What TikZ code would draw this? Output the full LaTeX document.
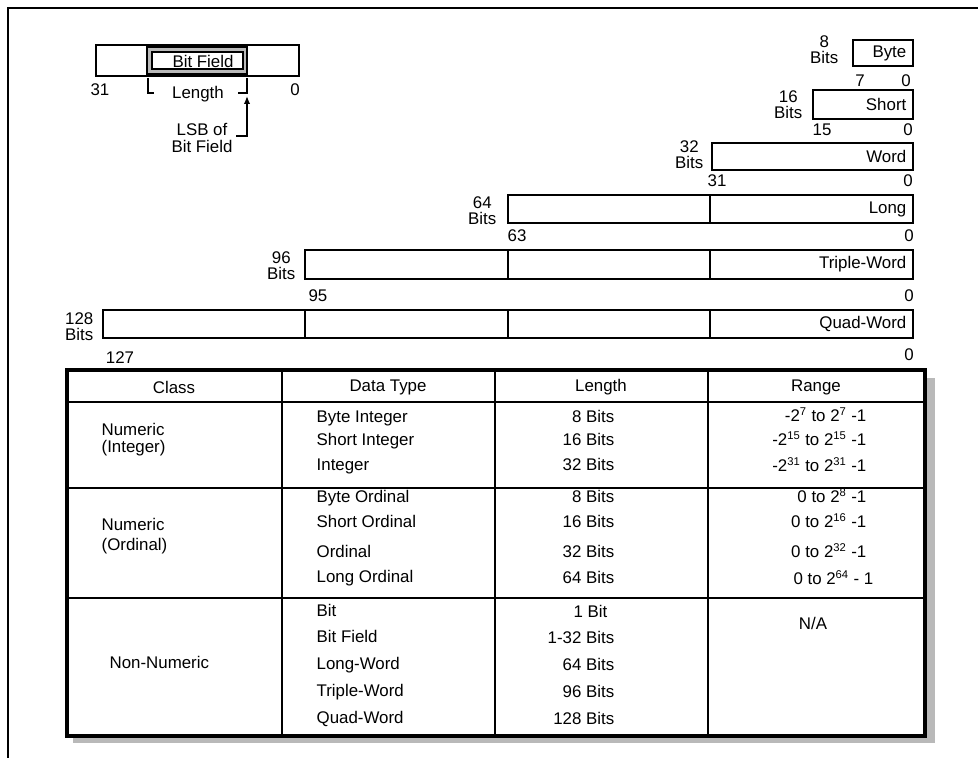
\documentclass[tikz,border=0pt]{standalone}
\usepackage{fontspec}
\setmainfont{Liberation Sans}
\usetikzlibrary{arrows.meta, positioning}

\begin{document}
\begin{tikzpicture}[x=0.25mm, y=-0.25mm, >={Latex[length=2mm, width=1.6mm]},
  font=\fontsize{12}{12}\selectfont, every node/.style={inner sep=1pt},
  reg/.style={line width=2pt},
  rule/.style={line width=1.8pt},
  thin line/.style={line width=1pt},
  size/.style={align=center, anchor=east, font=\fontsize{12}{11.5}\selectfont},
  regname/.style={anchor=east},
  cell/.style={anchor=west, text height=9pt, text depth=2.5pt},
  len/.style={anchor=east, text height=9pt, text depth=2.5pt},
  rng/.style={anchor=east, text height=9pt, text depth=2.5pt}]
  \useasboundingbox (0,0) rectangle (978,758);
  \draw[thin line] (8,758) -- (8,8) -- (978,8);

  % Bit field
  \draw[reg] (96,45) rectangle (299,76);
  \draw[thin line, fill=gray!55] (147,47) rectangle (247,74);
  \draw[thin line, fill=white] (152,52) rectangle (243,69);
  \node (bitfield) at (203,61) {Bit Field};
  \node (bf31) at (100,90) {31};
  \node (bf0) at (295,90) {0};
  \coordinate (lenL) at (148,78);
  \coordinate (lenR) at (247,78);
  \draw[thin line] (lenL) |- ++(6,15);
  \draw[thin line] (lenR) |- ++(-9,15);
  \node (length) at (198,94) {Length};
  \node[align=center] (lsb) at (202,138) {LSB of\\Bit Field};
  \coordinate (lsbfoot) at (236,136);
  \coordinate (lsbtip) at (247,96);
  \draw[->, thin line] (lsbfoot) -| (lsbtip);

  % Byte
  \draw[reg] (853,40) rectangle (913,66);
  \node[regname] (byte) at (908,53) {Byte};
  \node[size] (byteb) at (840,50) {8\\Bits};
  \node (byte7) at (860,81) {7};
  \node (byte0) at (906,81) {0};

  % Short
  \draw[reg] (813,90) rectangle (913,119);
  \node[regname] (short) at (908,104.5) {Short};
  \node[size] (shortb) at (804,105) {16\\Bits};
  \node (short15) at (822,130) {15};
  \node (short0) at (908,130) {0};

  % Word
  \draw[reg] (712,143) rectangle (913,170);
  \node[regname] (word) at (908,156.5) {Word};
  \node[size] (wordb) at (705,155) {32\\Bits};
  \node (word31) at (717,181) {31};
  \node (word0) at (908,181) {0};

  % Long
  \draw[reg] (508,195) rectangle (913,223);
  \draw[reg] (710,195) -- (710,223);
  \node[regname] (long) at (908,209) {Long};
  \node[size] (longb) at (498,211) {64\\Bits};
  \node (long63) at (517,236) {63};
  \node (long0) at (909,236) {0};

  % Triple-Word
  \draw[reg] (305,250) rectangle (913,279);
  \draw[reg] (508,250) -- (508,279);
  \draw[reg] (710,250) -- (710,279);
  \node[regname] (triple) at (908,264.5) {Triple-Word};
  \node[size] (tripleb) at (297,266) {96\\Bits};
  \node (triple95) at (318,296) {95};
  \node (triple0) at (909,296) {0};

  % Quad-Word
  \draw[reg] (103,310) rectangle (913,338);
  \draw[reg] (305,310) -- (305,338);
  \draw[reg] (508,310) -- (508,338);
  \draw[reg] (710,310) -- (710,338);
  \node[regname] (quad) at (908,324) {Quad-Word};
  \node[size] (quadb) at (95,327) {128\\Bits};
  \node (quad127) at (120,358) {127};
  \node (quad0) at (909,355) {0};

  % Table
  \fill[gray!55] (73,378) rectangle (935,743);
  \draw[line width=2.4pt, fill=white] (67,370) rectangle (925,736);
  \draw[rule] (67,402) -- (925,402);
  \draw[rule] (67,488) -- (925,488);
  \draw[rule] (67,598) -- (925,598);
  \draw[rule] (282,370) -- (282,736);
  \draw[rule] (495,370) -- (495,736);
  \draw[rule] (708,370) -- (708,736);
  \node (hclass) at (174,387) {Class};
  \node (htype) at (388,387) {Data Type};
  \node (hlen) at (601,387) {Length};
  \node (hrange) at (816,387) {Range};

  % Numeric (Integer)
  \node[anchor=west, align=left] (cint) at (100,440) {Numeric\\(Integer)};
  \node[cell] (t1) at (315,418) {Byte Integer};
  \node[cell] (t2) at (315,441) {Short Integer};
  \node[cell] (t3) at (315,466) {Integer};
  \node[len] (l1) at (616,418) {8 Bits};
  \node[len] (l2) at (616,441) {16 Bits};
  \node[len] (l3) at (616,466) {32 Bits};
  \node[rng] (r1) at (868,417) {-2\textsuperscript{7} to 2\textsuperscript{7} -1};
  \node[rng] (r2) at (868,441) {-2\textsuperscript{15} to 2\textsuperscript{15} -1};
  \node[rng] (r3) at (868,467) {-2\textsuperscript{31} to 2\textsuperscript{31} -1};

  % Numeric (Ordinal)
  \node[anchor=west, align=left] (cord) at (100,536) {Numeric\\[2pt](Ordinal)};
  \node[cell] (t4) at (315,498) {Byte Ordinal};
  \node[cell] (t5) at (315,523) {Short Ordinal};
  \node[cell] (t6) at (315,553) {Ordinal};
  \node[cell] (t7) at (315,578) {Long Ordinal};
  \node[len] (l4) at (616,498) {8 Bits};
  \node[len] (l5) at (616,523) {16 Bits};
  \node[len] (l6) at (616,553) {32 Bits};
  \node[len] (l7) at (616,579) {64 Bits};
  \node[rng] (r4) at (868,498) {0 to 2\textsuperscript{8} -1};
  \node[rng] (r5) at (868,523) {0 to 2\textsuperscript{16} -1};
  \node[rng] (r6) at (868,553) {0 to 2\textsuperscript{32} -1};
  \node[rng] (r7) at (875,580) {0 to 2\textsuperscript{64} - 1};

  % Non-Numeric
  \node[anchor=west] (cnon) at (108,662) {Non-Numeric};
  \node[cell] (t8) at (315,612) {Bit};
  \node[cell] (t9) at (315,638) {Bit Field};
  \node[cell] (t10) at (315,665) {Long-Word};
  \node[cell] (t11) at (315,692) {Triple-Word};
  \node[cell] (t12) at (315,719) {Quad-Word};
  \node[len] (l8) at (609,613) {1 Bit};
  \node[len] (l9) at (616,639) {1-32 Bits};
  \node[len] (l10) at (616,666) {64 Bits};
  \node[len] (l11) at (616,693) {96 Bits};
  \node[len] (l12) at (616,720) {128 Bits};
  \node (na) at (813,623) {N/A};
\end{tikzpicture}
\end{document}
